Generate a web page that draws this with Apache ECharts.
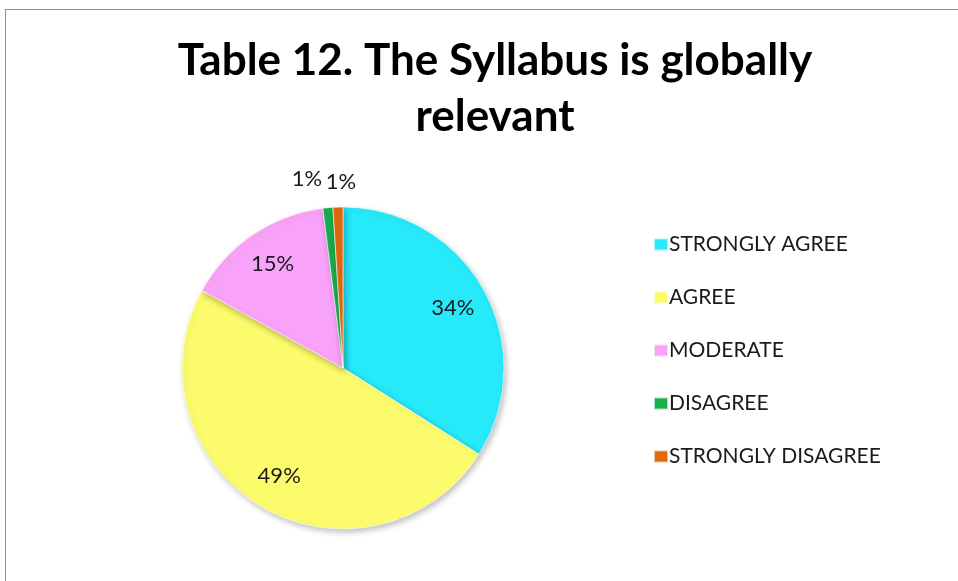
<!DOCTYPE html>
<html>
<head>
<meta charset="utf-8">
<script src="https://cdn.jsdelivr.net/npm/echarts@6/dist/echarts.min.js"></script>
<style>
    html, body { margin: 0; padding: 0; background: #fff; }
    #frame { position: absolute; left: 5px; top: 9px; width: 960px; height: 580px;
             border-left: 1px solid #8c8c8c; border-top: 1px solid #8c8c8c; }
    #chart { width: 958px; height: 581px; }
</style>
</head>
<body>
<div id="frame"></div>
<div id="chart"></div>
<script>
const categories = ['STRONGLY AGREE', 'AGREE', 'MODERATE', 'DISAGREE', 'STRONGLY DISAGREE'];
const values = [34, 49, 15, 1, 1];
const colors = ['#26E9F9', '#FBFB6C', '#F9A2F9', '#1BAE4E', '#E0690F'];

const center = [343, 368];
const radius = 161;
const font = 'Lato, "Open Sans", sans-serif';

const chart = echarts.init(document.getElementById('chart'));

const sliceData = categories.map((name, i) => ({
    name: name,
    value: values[i],
    itemStyle: { color: colors[i] }
}));

// label-only rings so the text sits further out than ECharts' 'inside' position
function labelRing(showIdx, r) {
    return {
        type: 'pie',
        center: center,
        radius: [0, r],
        startAngle: 90,
        silent: true,
        z: 5,
        itemStyle: { color: 'transparent', borderWidth: 0 },
        emphasis: { disabled: true },
        label: {
            position: 'inside',
            formatter: '{d}%',
            color: '#1a1a1a',
            fontSize: 22,
            fontFamily: font
        },
        labelLine: { show: false },
        data: categories.map((name, i) => ({
            name: name,
            value: values[i],
            label: { show: showIdx.includes(i) }
        }))
    };
}

const ring2 = labelRing([3, 4], radius * 2.34);
ring2.data[3].label.offset = [-18, 1];
ring2.data[4].label.offset = [4, 5];

chart.setOption({
    animation: false,
    title: {
        text: 'Table 12. The Syllabus is globally\nrelevant',
        left: 490,
        top: 28,
        textAlign: 'center',
        textStyle: {
            fontFamily: font,
            fontSize: 44,
            fontWeight: 'bold',
            color: '#000',
            lineHeight: 56
        }
    },
    legend: {
        orient: 'vertical',
        left: 648,
        top: 229,
        itemWidth: 14,
        itemHeight: 12,
        itemGap: 32,
        icon: 'rect',
        textStyle: { fontFamily: font, fontSize: 21, color: '#1a1a1a', padding: [0, 0, 0, -4] },
        data: categories
    },
    series: [
        {
            type: 'pie',
            center: center,
            radius: [0, radius],
            startAngle: 90,
            itemStyle: {
                borderColor: 'rgba(255,255,255,0.6)',
                borderWidth: 1,
                shadowBlur: 6,
                shadowOffsetX: 2,
                shadowOffsetY: 3,
                shadowColor: 'rgba(0,0,0,0.25)'
            },
            label: { show: false },
            labelLine: { show: false },
            emphasis: { disabled: true },
            data: sliceData
        },
        labelRing([0, 1, 2], radius * 1.52),
        ring2
    ]
});
</script>
</body>
</html>
